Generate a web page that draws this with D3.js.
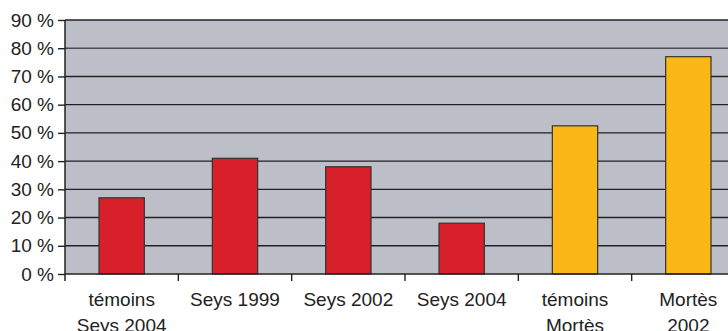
<!DOCTYPE html>
<html>
<head>
<meta charset="utf-8">
<script src="https://cdn.jsdelivr.net/npm/d3@7"></script>
<style>
  body { margin: 0; background: #fff; }
  text { font-family: "Liberation Sans", Arial, sans-serif; fill: #222; }
</style>
</head>
<body>
<svg width="728" height="331"></svg>
<script>
const categories = [["témoins", "Seys 2004"], ["Seys 1999"], ["Seys 2002"], ["Seys 2004"], ["témoins", "Mortès"], ["Mortès", "2002"]];
const values = [27, 41, 38, 18, 52.5, 77];
const colors = ["#d8202a", "#d8202a", "#d8202a", "#d8202a", "#fbb715", "#fbb715"];
const yTicks = d3.range(0, 100, 10);

const svg = d3.select("svg");
const margin = {left: 65, top: 20, bottom: 57};
const plotW = 680;
const plotH = 331 - margin.top - margin.bottom;

const x = d3.scaleBand()
  .domain(d3.range(categories.length))
  .range([margin.left, margin.left + plotW])
  .paddingInner(0.6)
  .paddingOuter(0.3);

const y = d3.scaleLinear()
  .domain([0, 90])
  .range([margin.top + plotH, margin.top]);

// plot background
svg.append("rect")
  .attr("x", margin.left)
  .attr("y", y(90))
  .attr("width", plotW)
  .attr("height", y(0) - y(90))
  .attr("fill", "#bcbfc7");

// gridlines
svg.append("g")
  .selectAll("line")
  .data(yTicks.filter(d => d > 0))
  .join("line")
  .attr("x1", margin.left)
  .attr("x2", margin.left + plotW)
  .attr("y1", d => y(d))
  .attr("y2", d => y(d))
  .attr("stroke", d => d === 80 ? "#4a4a50" : "#222")
  .attr("stroke-width", 1.4);

// bars
svg.append("g")
  .selectAll("rect")
  .data(values)
  .join("rect")
  .attr("x", (d, i) => x(i))
  .attr("y", d => y(d))
  .attr("width", x.bandwidth())
  .attr("height", d => y(0) - y(d))
  .attr("fill", (d, i) => colors[i])
  .attr("stroke", "#333")
  .attr("stroke-width", 1.2);

// y axis
const yAxis = svg.append("g")
  .attr("transform", `translate(${margin.left},0)`)
  .call(d3.axisLeft(y).tickValues(yTicks).tickSize(7).tickPadding(4).tickFormat(d => d + " %"));
yAxis.select(".domain").remove();
yAxis.selectAll(".tick line").attr("stroke", "#222").attr("stroke-width", 1.4);
yAxis.selectAll(".tick text")
  .attr("font-size", 19)
  .attr("font-family", "Liberation Sans, Arial, sans-serif")
  .attr("fill", "#222");

// axis lines
svg.append("line")
  .attr("x1", margin.left).attr("x2", margin.left)
  .attr("y1", y(90)).attr("y2", y(0) + 7)
  .attr("stroke", "#222").attr("stroke-width", 1.5);
svg.append("line")
  .attr("x1", margin.left).attr("x2", margin.left + plotW)
  .attr("y1", y(0)).attr("y2", y(0))
  .attr("stroke", "#222").attr("stroke-width", 1.5);

// category boundary ticks
const step = x.step();
const bounds = d3.range(1, categories.length).map(i => x(i) - x.paddingInner() * step / 2);
svg.append("g")
  .selectAll("line")
  .data(bounds)
  .join("line")
  .attr("x1", d => d).attr("x2", d => d)
  .attr("y1", y(0)).attr("y2", y(0) + 7)
  .attr("stroke", "#222").attr("stroke-width", 1.4);

// category labels (second line runs off the bottom edge, as in the original)
const labels = svg.append("g")
  .selectAll("text")
  .data(categories)
  .join("text")
  .attr("x", (d, i) => x(i) + x.bandwidth() / 2)
  .attr("y", 306)
  .attr("text-anchor", "middle")
  .attr("font-size", 19);
labels.selectAll("tspan")
  .data(d => d)
  .join("tspan")
  .attr("x", function() { return this.parentNode.getAttribute("x"); })
  .attr("dy", (d, i) => i === 0 ? 0 : 26)
  .text(d => d);
</script>
</body>
</html>
